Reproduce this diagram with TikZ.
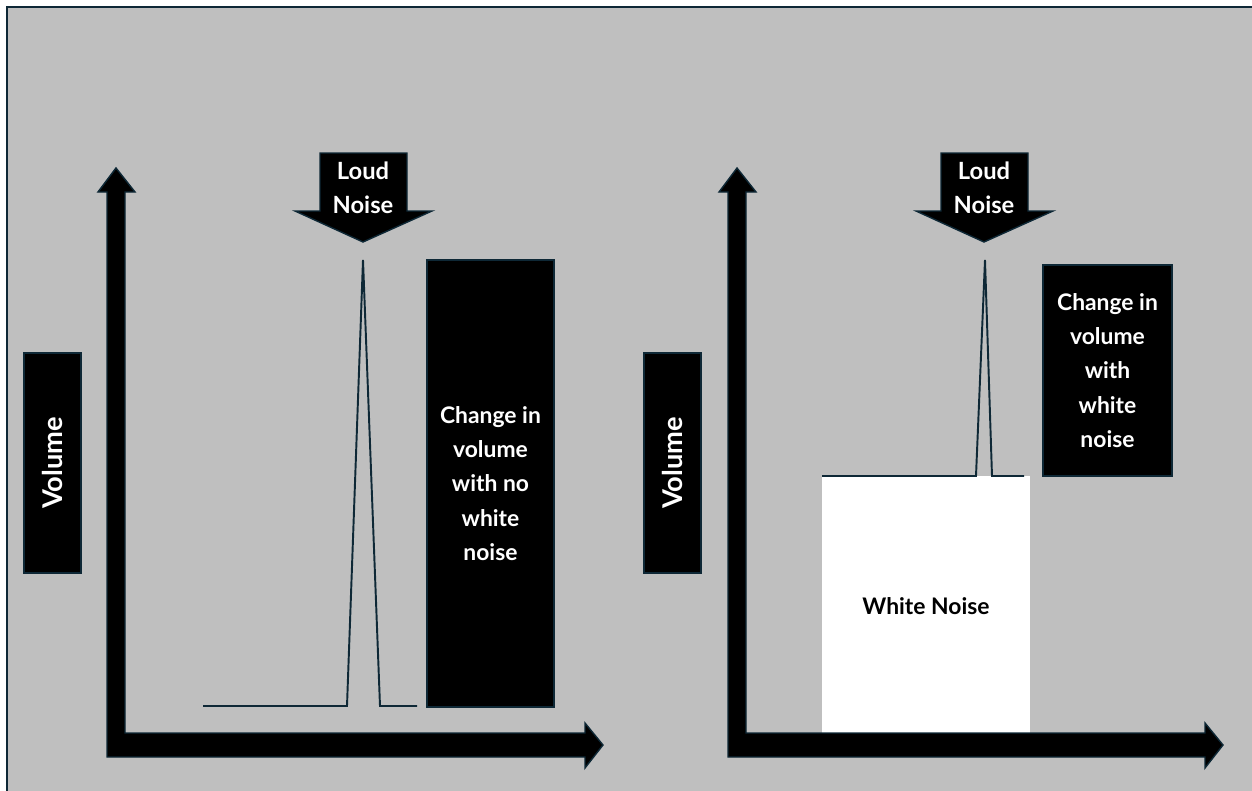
\documentclass[tikz,border=0pt]{standalone}
\usepackage{fontspec}
\setmainfont{Lato}
\usepackage{tikz}
\usetikzlibrary{positioning}
\usepackage{xcolor}
\definecolor{panelgray}{RGB}{191,191,191}
\definecolor{edgeteal}{RGB}{14,40,54}
\tikzstyle{blackbox} = [rectangle, draw=edgeteal, fill=black, text=white, font=\bfseries\fontsize{13}{19.5}\selectfont, align=center, line width=0.8pt, inner sep=0pt]
\tikzstyle{blockarrow} = [draw=edgeteal, fill=black, line width=0.8pt, line join=miter]
\tikzstyle{signal} = [draw=edgeteal, line width=1.1pt, line join=miter]
\tikzstyle{label} = [text=white, font=\bfseries\fontsize{13.5}{19.5}\selectfont, align=center, inner sep=0pt]

\begin{document}
\begin{tikzpicture}[x=0.02cm, y=-0.02cm]
\useasboundingbox (0,0) rectangle (1252,791);
% Background panel
\draw[fill=panelgray, draw=edgeteal, line width=1.7pt] (7,7) rectangle (1256,795);

% Left: no white noise
\draw[blockarrow] (116,168) -- (135,192) -- (125,192) -- (125,733) -- (585,733) -- (585,723)
  -- (603,745) -- (585,768) -- (585,757) -- (107,757) -- (107,192) -- (98,192) -- cycle;
\node (volL) [blackbox, minimum width=4.4cm, minimum height=1.14cm, rotate=90, font=\bfseries\fontsize{15.5}{19.5}\selectfont] at (52.5,463) {Volume};
\draw[blockarrow] (320,153) -- (407,153) -- (407,211) -- (432,211) -- (363,242) -- (295,211)
  -- (320,211) -- cycle;
\node (loudL) [label] at (363,188) {Loud\\Noise};
\draw[signal] (203,706) -- (347,706) -- (363,260) -- (380,706) -- (417,706);
\node (changeL) [blackbox, minimum width=2.54cm, minimum height=8.94cm] at (490.5,483.5) {Change in\\volume\\with no\\white\\noise};

% Right: with white noise
\node (whiteNoise) [rectangle, fill=white, minimum width=4.16cm, minimum height=5.2cm, font=\bfseries\fontsize{13}{19.5}\selectfont, inner sep=0pt] at (926,606) {White Noise};
\draw[blockarrow] (737,168) -- (756,192) -- (746,192) -- (746,733) -- (1205,733) -- (1205,723)
  -- (1223,745) -- (1205,768) -- (1205,757) -- (728,757) -- (728,192) -- (719,192) -- cycle;
\node (volR) [blackbox, minimum width=4.4cm, minimum height=1.14cm, rotate=90, font=\bfseries\fontsize{15.5}{19.5}\selectfont] at (672.5,463) {Volume};
\draw[blockarrow] (941,153) -- (1028,153) -- (1028,211) -- (1053,211) -- (984,242) -- (916,211)
  -- (941,211) -- cycle;
\node (loudR) [label] at (984,188) {Loud\\Noise};
\draw[signal] (822,476) -- (976,476) -- (985,260) -- (992,476) -- (1024,476);
\node (changeR) [blackbox, minimum width=2.58cm, minimum height=4.22cm] at (1107.5,370.5) {Change in\\volume\\with\\white\\noise};
\end{tikzpicture}
\end{document}
